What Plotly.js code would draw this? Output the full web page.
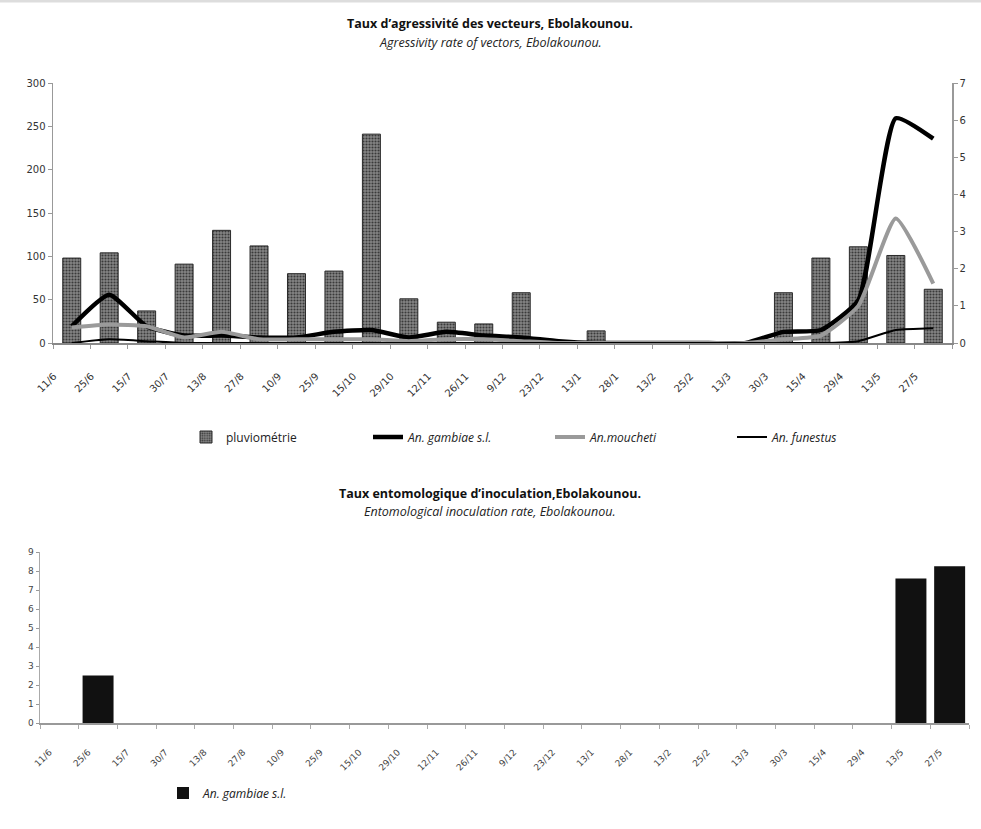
<!DOCTYPE html>
<html>
<head>
<meta charset="utf-8">
<script src="https://cdn.plot.ly/plotly-3.0.1.min.js"></script>
<style>html,body{margin:0;padding:0;background:#fff;}#chart{width:981px;height:829px;}</style>
</head>
<body>
<div id="chart"></div>
<script>
// ---- data ----
var dates = ["11/6","25/6","15/7","30/7","13/8","27/8","10/9","25/9","15/10","29/10","12/11","26/11","9/12","23/12","13/1","28/1","13/2","25/2","13/3","30/3","15/4","29/4","13/5","27/5"];
var pluviometrie = [98,104,37,91,130,112,80,83,241,51,24,22,58,0,14,1,1,1,1,58,98,111,101,62];
var gambiae = [0.45,1.3,0.45,0.2,0.2,0.15,0.15,0.3,0.35,0.15,0.3,0.2,0.15,0.05,0,0,0,0,0,0.3,0.35,1.15,6.05,5.5];
var moucheti = [0.42,0.5,0.45,0.15,0.3,0.1,0.1,0.1,0.1,0.05,0.1,0.1,0.05,0,0,0,0,0,0,0.1,0.2,1.0,3.35,1.6];
var funestus = [0,0.1,0.05,0,0,0,0,0,0,0,0,0,0,0,0,0,0,0,0,0,0,0.05,0.35,0.4];
var eirGambiae = [0,2.5,0,0,0,0,0,0,0,0,0,0,0,0,0,0,0,0,0,0,0,0,7.6,8.25];

var W = 981, H = 829;
function px(x){return x/W;}
function py(y){return 1-y/H;}

var tickFont = {family:"DejaVu Sans", size:10, color:"#333"};

var traces = [
  {type:"bar", x:dates, y:pluviometrie, name:"pluviométrie", xaxis:"x", yaxis:"y",
   width:0.48,
   marker:{color:"#6e6e6e", line:{color:"#2a2a2a", width:1},
           pattern:{shape:".", fgcolor:"#3a3a3a", bgcolor:"#858585", size:3, solidity:0.4}},
   legend:"legend"},
  {type:"scatter", mode:"lines", x:dates, y:gambiae, name:"<i>An. gambiae s.l.</i>", xaxis:"x", yaxis:"y2",
   line:{color:"#000", width:4.5, shape:"spline", smoothing:0.5}, legend:"legend"},
  {type:"scatter", mode:"lines", x:dates, y:moucheti, name:"<i>An.moucheti</i>", xaxis:"x", yaxis:"y2",
   line:{color:"#9a9a9a", width:4, shape:"spline", smoothing:0.5}, legend:"legend"},
  {type:"scatter", mode:"lines", x:dates, y:funestus, name:"<i>An. funestus</i>", xaxis:"x", yaxis:"y2",
   line:{color:"#000", width:2, shape:"spline", smoothing:0.5}, legend:"legend"},
  {type:"bar", x:dates, y:eirGambiae, name:"<i>An. gambiae s.l.</i>", xaxis:"x2", yaxis:"y3",
   width:0.8, marker:{color:"#111", line:{width:0}}, legend:"legend2"}
];

var layout = {
  width:W, height:H,
  margin:{l:0,r:0,t:0,b:0},
  paper_bgcolor:"#fff", plot_bgcolor:"rgba(0,0,0,0)",
  showlegend:true,
  font:{family:"Open Sans", color:"#222"},
  xaxis:{domain:[px(53),px(952)], anchor:"y", type:"category", range:[-0.5,23.5],
         showline:true, linecolor:"#888", linewidth:1.5, showgrid:false, zeroline:false,
         ticks:"outside", tickson:"boundaries", ticklen:4, tickcolor:"#999",
         tickangle:-45, tickfont:tickFont, ticklabelshift:-18, ticklabelstandoff:22},
  yaxis:{domain:[py(343),py(83)], anchor:"x", range:[0,300], dtick:50,
         showline:true, linecolor:"#999", linewidth:1.5, showgrid:false, zeroline:false,
         ticks:"outside", ticklen:4, tickcolor:"#999", tickfont:tickFont},
  yaxis2:{overlaying:"y", side:"right", anchor:"x", range:[0,7], dtick:1,
          showline:true, linecolor:"#999", linewidth:1.5, showgrid:false, zeroline:false,
          ticks:"outside", ticklen:4, tickcolor:"#999", tickfont:tickFont},
  xaxis2:{domain:[px(40),px(969)], anchor:"y3", type:"category", range:[-0.5,23.5],
          showline:true, linecolor:"#999", linewidth:1.5, showgrid:false, zeroline:false,
          ticks:"outside", tickson:"boundaries", ticklen:4, tickcolor:"#aaa",
          tickangle:-45, tickfont:{family:"DejaVu Sans", size:9, color:"#444"},
          ticklabelshift:-10, ticklabelstandoff:19},
  yaxis3:{domain:[py(723),py(552)], anchor:"x2", range:[0,9], dtick:1,
          showline:true, linecolor:"#aaa", linewidth:1.5, showgrid:false, zeroline:false,
          ticks:"outside", ticklen:3, tickcolor:"#999",
          tickfont:{family:"DejaVu Sans", size:9, color:"#444"}},
  legend:{orientation:"h", x:px(186), y:py(437), xanchor:"left", yanchor:"middle",
          entrywidth:137, entrywidthmode:"pixels",
          font:{family:"Open Sans", size:12, color:"#222"}, bgcolor:"rgba(0,0,0,0)"},
  legend2:{orientation:"h", x:px(163), y:py(793), xanchor:"left", yanchor:"middle",
          font:{family:"Open Sans", size:12, color:"#222"}, bgcolor:"rgba(0,0,0,0)"},
  shapes:[
    {type:"line", xref:"paper", yref:"paper", x0:0, x1:1, y0:py(1), y1:py(1), line:{color:"#ddd", width:3}}
  ],
  annotations:[
    {xref:"paper", yref:"paper", x:px(490), y:py(13), text:"<b>Taux d’agressivité des vecteurs, Ebolakounou.</b>",
     showarrow:false, font:{family:"Open Sans", size:12.5, color:"#111"}},
    {xref:"paper", yref:"paper", x:px(490), y:py(32), text:"<i>Agressivity rate of vectors, Ebolakounou.</i>",
     showarrow:false, font:{family:"Open Sans", size:12.5, color:"#222"}},
    {xref:"paper", yref:"paper", x:px(490), y:py(493), text:"<b>Taux entomologique d’inoculation,Ebolakounou.</b>",
     showarrow:false, font:{family:"Open Sans", size:12.5, color:"#111"}},
    {xref:"paper", yref:"paper", x:px(490), y:py(512), text:"<i>Entomological inoculation rate, Ebolakounou.</i>",
     showarrow:false, font:{family:"Open Sans", size:12.5, color:"#222"}}
  ]
};

Plotly.newPlot("chart", traces, layout, {displayModeBar:false, staticPlot:true});
</script>
</body>
</html>
